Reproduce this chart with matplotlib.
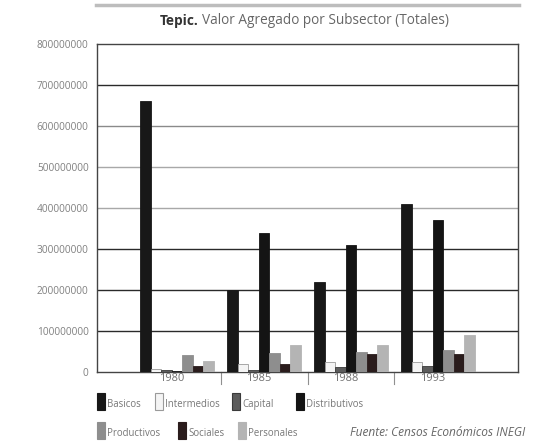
import matplotlib
matplotlib.use("Agg")
import matplotlib.pyplot as plt
import numpy as np
from matplotlib.patches import Rectangle
from matplotlib.lines import Line2D

plt.rcParams['font.family'] = ['Open Sans', 'DejaVu Sans']

# Valor agregado por subsector, Tepic (pesos)
years = ["1980", "1985", "1988", "1993"]
series_names = ["Basicos", "Intermedios", "Capital", "Distributivos",
                "Productivos", "Sociales", "Personales"]
basicos = [660e6, 200e6, 220e6, 410e6]
intermedios = [8e6, 20e6, 25e6, 25e6]
capital = [6e6, 6e6, 12e6, 15e6]
distributivos = [3e6, 340e6, 310e6, 370e6]
productivos = [42e6, 46e6, 48e6, 53e6]
sociales = [15e6, 20e6, 45e6, 45e6]
personales = [28e6, 66e6, 66e6, 90e6]
yticks = [0, 100000000, 200000000, 300000000, 400000000,
          500000000, 600000000, 700000000, 800000000]
source_note = "Fuente: Censos Económicos INEGI"

values = [basicos, intermedios, capital, distributivos,
          productivos, sociales, personales]
styles = [
    dict(facecolor="#181818", edgecolor="#181818"),
    dict(facecolor="#f4f4f4", edgecolor="#9a9a9a"),
    dict(facecolor="#5c5c5c", edgecolor="#3a3a3a"),
    dict(facecolor="#141414", edgecolor="#141414"),
    dict(facecolor="#8e8e8e", edgecolor="#8e8e8e"),
    dict(facecolor="#2a1c1c", edgecolor="#2a1c1c"),
    dict(facecolor="#b4b4b4", edgecolor="#b4b4b4"),
]

W, H = 536, 444
fig = plt.figure(figsize=(W / 100, H / 100), dpi=100)
fig.patch.set_facecolor("white")

ax = fig.add_axes([97 / W, 1 - 372 / H, (518 - 97) / W, (372 - 44) / H])
x = np.arange(len(years))
bw = 0.12
for i, (vals, st) in enumerate(zip(values, styles)):
    ax.bar(x + (i - 3) * bw, vals, width=bw, linewidth=0.6, zorder=3, **st)

ax.set_xlim(-0.92, 3.92)
ax.set_ylim(0, 800e6)
ax.set_yticks(yticks)
ax.set_yticklabels([str(v) for v in yticks], fontsize=7.3, color="#808080")
ax.tick_params(axis="y", length=0, pad=6)

# gridlines: some printed darker than others
grid_colors = {100e6: "#2a2a2a", 200e6: "#2a2a2a", 300e6: "#2a2a2a",
               400e6: "#a8a8a8", 500e6: "#a8a8a8", 600e6: "#8a8a8a",
               700e6: "#2a2a2a"}
for yv, c in grid_colors.items():
    ax.axhline(yv, color=c, linewidth=1.0, zorder=1)

for side in ["left", "right", "top", "bottom"]:
    ax.spines[side].set_color("#444444")
    ax.spines[side].set_linewidth(1.0)

ax.set_xticks(x - 0.06)
ax.set_xticklabels(years, fontsize=8, color="#707070")
ax.tick_params(axis="x", length=0, pad=1)
# group separators below the baseline
for sx in [0.5, 1.5, 2.5]:
    ax.plot([sx, sx], [0, -30e6], color="#909090", linewidth=0.8,
            clip_on=False, zorder=2)

# frame line across the top of the chart
fig.add_artist(Line2D([96 / W, 519 / W], [1 - 5 / H, 1 - 5 / H],
                      color="#bdbdbd", linewidth=2.5))

# title
t1 = fig.text(160 / W, 1 - 21 / H, "Tepic.", fontsize=9.8, fontweight="bold",
              color="#333333", va="center")
fig.canvas.draw()
bb = t1.get_window_extent()
fig.text(bb.x1 / W + 3 / W, 1 - 21 / H, "Valor Agregado por Subsector (Totales)",
         fontsize=9.8, color="#666666", va="center")

# legend
def legend_item(px, top, st, label):
    fig.add_artist(Rectangle((px / W, 1 - (top + 17) / H), 8 / W, 17 / H,
                             transform=fig.transFigure, linewidth=0.8, **st))
    fig.text((px + 10) / W, 1 - (top + 17) / H, label, fontsize=6.9,
             color="#777777", va="bottom")

row1 = [97, 155, 232, 296]
row2 = [97, 178, 238]
for px, i in zip(row1, [0, 1, 2, 3]):
    legend_item(px, 393, styles[i], series_names[i])
for px, i in zip(row2, [4, 5, 6]):
    legend_item(px, 422, styles[i], series_names[i])

fig.text(350 / W, 1 - 439 / H, source_note, fontsize=8.6, style="italic",
         color="#666666", va="bottom")

fig.savefig("out.png", dpi=100, facecolor="white")
